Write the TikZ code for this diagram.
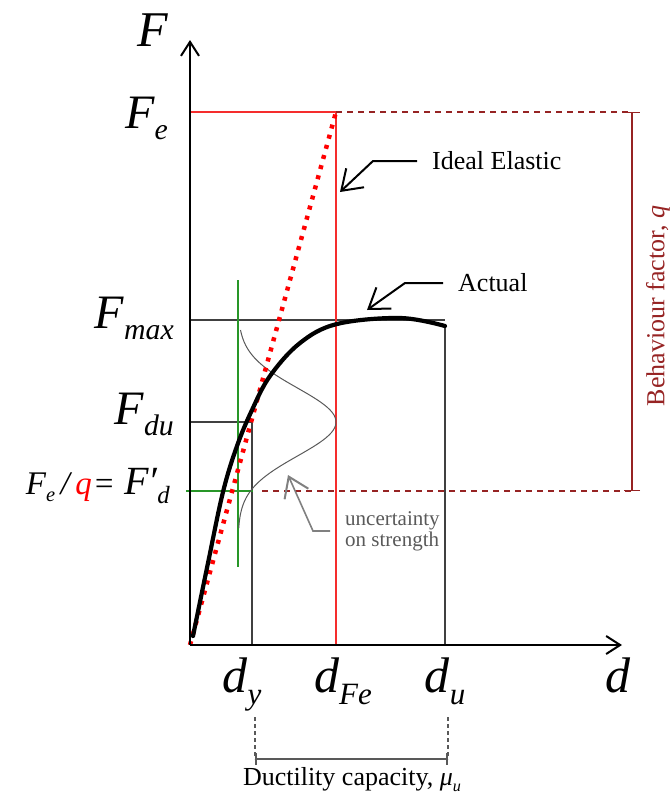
\documentclass[tikz,border=0pt]{standalone}
\usepackage{fontspec}
\setmainfont{Liberation Serif}
\usetikzlibrary{arrows.meta, positioning}
\definecolor{darkred}{RGB}{150,35,35}
\definecolor{refgreen}{RGB}{40,150,40}
\definecolor{refred}{RGB}{245,45,45}
\newcommand{\fsz}[1]{\fontsize{#1}{#1}\selectfont}
\newcommand{\lo}[1]{\raisebox{-0.24em}{\scalebox{0.62}{#1}}}
\tikzstyle{axis} = [line width=2pt, -{Straight Barb[length=14pt, width=18pt, line width=2pt]}]
\tikzstyle{lbl} = [inner sep=0pt, font=\itshape]
\tikzstyle{note} = [inner sep=0pt, font=\fsz{26}]
\tikzstyle{pointer} = [line width=2pt, -{Straight Barb[length=19pt, width=26pt, line width=2pt]}]
\tikzstyle{refline} = [line width=1.4pt, black!75]
\tikzstyle{redline} = [line width=1.4pt, refred]
\tikzstyle{greenline} = [line width=1.1pt, refgreen]
\tikzstyle{qline} = [line width=1.4pt, darkred, dash pattern=on 6pt off 5pt]
\tikzstyle{elastic} = [line width=4.5pt, red, dash pattern=on 4pt off 6.5pt]
\tikzstyle{actual} = [line width=4.2pt, black, line cap=round]
\tikzstyle{bell} = [line width=1pt, black!65]

\begin{document}
\begin{tikzpicture}[x=1pt, y=-1pt]
    \useasboundingbox (0,0) rectangle (671,796);

    % Key points
    \coordinate (O) at (190,645);
    \coordinate (ytop) at (190,40);
    \coordinate (xend) at (622,645);
    \coordinate (Fe0) at (190,112);
    \coordinate (E) at (336,112);
    \coordinate (dFe) at (336,645);
    \coordinate (Fmax0) at (190,320);
    \coordinate (Fmax1) at (445,320);
    \coordinate (U) at (445,326);
    \coordinate (du) at (445,645);
    \coordinate (Fdu0) at (190,422);
    \coordinate (Y) at (252,422);
    \coordinate (dy) at (252,645);
    \coordinate (Fd0) at (186,491);
    \coordinate (Fd1) at (253,491);
    \coordinate (Fd2) at (262,491);
    \coordinate (g0) at (238,280);
    \coordinate (g1) at (238,567);
    \coordinate (qtop) at (632,112);
    \coordinate (qbot) at (632,491);

    % Reference lines
    \draw[refline] (Fmax0) -- (Fmax1);
    \draw[refline] (U) -- (du);
    \draw[refline, line width=1.1pt] (Fdu0) -- (Y) -- (dy);
    \draw[redline] (Fe0) -- (E) -- (dFe);
    \draw[greenline] (Fd0) -- (Fd1);
    \draw[greenline] (g0) -- (g1);
    \draw[qline] (E) -- (qtop);
    \draw[qline] (Fd2) -- (qbot);
    \draw[line width=1.4pt, darkred, {Bar[width=16pt]}-{Bar[width=16pt]}] (qtop) -- (qbot);

    % Strength scatter
    \draw[bell] plot[domain=-92:106, samples=80, smooth]
        ({238+98*exp(-(\x*\x)/2312)}, {422+\x});

    % Curves
    \draw[elastic] (O) -- (E);
    \draw[actual] plot[smooth, tension=0.6] coordinates
        {(193,636) (208,563) (223,492) (237,446) (252,410) (270,376) (300,343) (337,324) (400,318) (445,326)};

    % Axes
    \draw[axis] (O) -- (ytop);
    \draw[axis] (O) -- (xend);

    % Force labels
    \node[lbl, font=\itshape\fsz{50}] (lF) at (153,30) {F};
    \node[lbl, font=\itshape\fsz{48}, anchor=base east] (lFe) at (168,128) {F\lo{e}};
    \node[lbl, font=\itshape\fsz{48}, anchor=base east] (lFmax) at (174,328) {F\lo{max}};
    \node[lbl, font=\itshape\fsz{48}, anchor=base east] (lFdu) at (174,424) {F\lo{du}};
    \node[lbl, anchor=base east] (lFd) at (170,494)
        {\fsz{33}F\lo{e}\,/\,\textcolor{red}{q}\kern1pt=\;\fsz{40}F′\lo{d}};

    % Displacement labels
    \node[lbl, font=\itshape\fsz{50}, anchor=base] (ld) at (618,692) {d};
    \node[lbl, font=\itshape\fsz{50}, anchor=base] (ldy) at (242,692) {d\lo{y}};
    \node[lbl, font=\itshape\fsz{50}, anchor=base] (ldFe) at (343,692) {d\lo{Fe}};
    \node[lbl, font=\itshape\fsz{50}, anchor=base] (ldu) at (445,692) {d\lo{u}};

    % Annotations
    \coordinate (tipE) at (340,192);
    \coordinate (tipA) at (367,310);
    \coordinate (tipU) at (288,475);
    \node[note, anchor=west] (ideal) at (432,161) {Ideal Elastic};
    \node[note, anchor=west] (act) at (458,283) {Actual};
    \node[note, font=\fsz{21}, text=black!65, align=left, anchor=west] (unc) at (345,531)
        {uncertainty\\on strength};
    \draw[pointer] ([xshift=-15pt]ideal.west) -- ++(-44,0) -- (tipE);
    \draw[pointer] ([xshift=-15pt]act.west) -- ++(-38,0) -- (tipA);
    \draw[pointer, line width=1.6pt, black!50] ([xshift=-15pt]unc.west) -- ++(-17,0) -- (tipU);

    % Behaviour factor
    \node[note, text=darkred, rotate=90] (beh) at (658,306) {Behaviour factor, \textit{q}};

    % Ductility
    \coordinate (dc0) at (255,717);
    \coordinate (dc1) at (448,717);
    \coordinate (dc2) at (255,759);
    \coordinate (dc3) at (448,759);
    \draw[line width=1.4pt, black!65, dash pattern=on 4pt off 3pt] (dc0) -- (dc2);
    \draw[line width=1.4pt, black!65, dash pattern=on 4pt off 3pt] (dc1) -- (dc3);
    \draw[line width=1.6pt, black!65, {Bar[width=12pt]}-{Bar[width=12pt]}] (dc2) -- (dc3);
    \node[note, font=\fsz{26}, anchor=base] (duct) at (352,785) {Ductility capacity, \textit{μ}\lo{\textit{u}}};

\end{tikzpicture}
\end{document}
